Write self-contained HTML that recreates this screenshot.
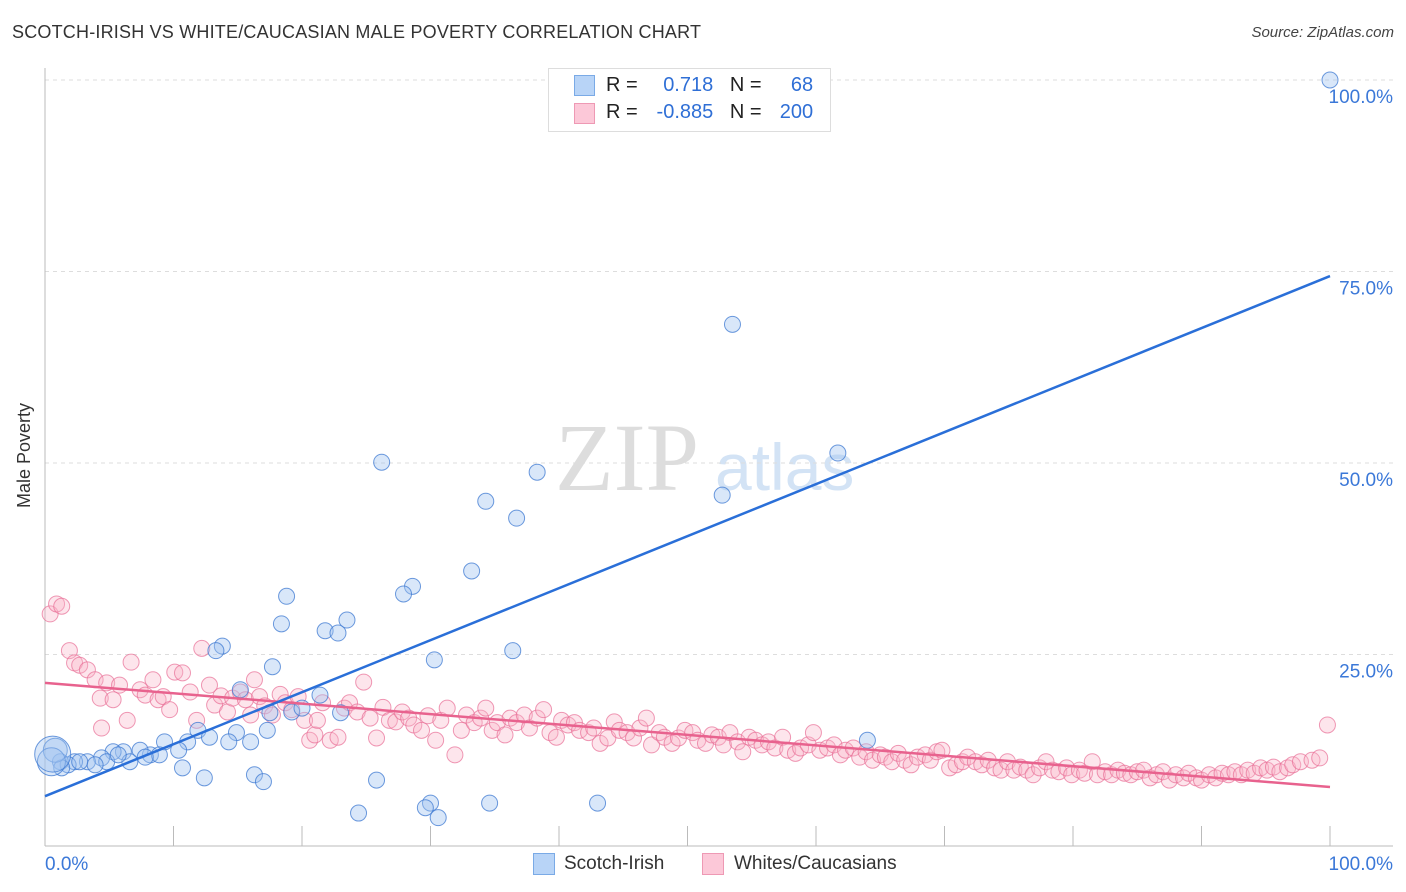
<!DOCTYPE html>
<html><head><meta charset="utf-8">
<style>
body{margin:0;background:#fff;font-family:"Liberation Sans",sans-serif;}
#wrap{position:relative;width:1406px;height:892px;overflow:hidden;}
.t{position:absolute;white-space:nowrap;}
</style></head>
<body>
<div id="wrap">
<div class="t" style="left:12px;top:22px;font-size:18px;color:#333;letter-spacing:0.2px">SCOTCH-IRISH VS WHITE/CAUCASIAN MALE POVERTY CORRELATION CHART</div>
<div class="t" style="right:12px;top:24px;font-size:15px;color:#444;font-style:italic">Source: ZipAtlas.com</div>
<div class="t" style="left:-28px;top:445px;font-size:18px;color:#333;transform:rotate(-90deg)">Male Poverty</div>
<svg id="svg" width="1406" height="892" style="position:absolute;left:0;top:0">
<text x="555" y="490" font-family="Liberation Serif,serif" font-size="96" fill="#ddd">ZIP</text>
<text x="715" y="490" font-family="Liberation Sans,sans-serif" font-size="66" fill="#d3e3f5">atlas</text>
</svg>
<div style="position:absolute;left:548px;top:68px;width:281px;height:62px;border:1px solid #ddd;background:#fff"></div>
<div style="position:absolute;left:574px;top:75px;width:19px;height:19px;background:#b8d4f7;border:1px solid #7aaae6"></div>
<div style="position:absolute;left:574px;top:103px;width:19px;height:19px;background:#fcc8d8;border:1px solid #ee99b4"></div>
<div class="t" style="left:606px;top:74px;font-size:20px;color:#222">R = <span style="color:#2f6fd6;display:inline-block;width:70px;text-align:right">0.718</span>&nbsp;&nbsp; N = <span style="color:#2f6fd6;display:inline-block;width:46px;text-align:right">68</span></div>
<div class="t" style="left:606px;top:101px;font-size:20px;color:#222">R = <span style="color:#2f6fd6;display:inline-block;width:70px;text-align:right">-0.885</span>&nbsp;&nbsp; N = <span style="color:#2f6fd6;display:inline-block;width:46px;text-align:right">200</span></div>
<div style="position:absolute;left:533px;top:853px;width:20px;height:20px;background:#b8d4f7;border:1px solid #7aaae6"></div>
<div class="t" style="left:564px;top:853px;font-size:19px;color:#333">Scotch-Irish</div>
<div style="position:absolute;left:702px;top:853px;width:20px;height:20px;background:#fcc8d8;border:1px solid #ee99b4"></div>
<div class="t" style="left:734px;top:853px;font-size:19px;color:#333">Whites/Caucasians</div>
</div>
<script>
const yTicks=[25,50,75,100];
const yTickLabels=["25.0%","50.0%","75.0%","100.0%"];
const xTicks=[10,20,30,40,50,60,70,80,90,100];
const blueX=[100,53.5,61.7,26.2,38.3,34.3,52.7,36.7,33.2,28.6,27.9,18.8,18.4,23.5,21.8,22.8,13.8,13.3,30.3,36.4,17.7,15.2,21.4,19.2,20.0,16.0,14.9,17.3,11.9,12.8,14.3,11.1,9.3,10.4,8.2,7.4,6.1,5.3,6.6,4.4,3.3,2.3,1.2,1.8,10.7,12.4,16.3,17.0,25.8,24.4,30.0,29.6,30.6,34.6,43.0,64.0,23.0,17.5,8.9,4.8,3.9,2.7,7.8,5.7,1.3,0.8,0.5,0.6];
const blueY=[100,68.1,51.3,50.1,48.8,45.0,45.8,42.8,35.9,33.9,32.9,32.6,29.0,29.5,28.1,27.8,26.1,25.5,24.3,25.5,23.4,20.4,19.7,17.5,18.0,13.6,14.8,15.1,15.1,14.2,13.6,13.6,13.6,12.5,11.9,12.5,12.3,12.3,11.0,11.5,11.0,11.0,11.0,10.6,10.2,8.9,9.3,8.4,8.6,4.3,5.6,5.0,3.7,5.6,5.6,13.8,17.4,17.4,11.9,11.0,10.6,11.0,11.6,11.9,10.2,12.5,11.0,12.0];
const blueR=[8,8,8,8,8,8,8,8,8,8,8,8,8,8,8,8,8,8,8,8,8,8,8,8,8,8,8,8,8,8,8,8,8,8,8,8,8,8,8,8,8,8,8,8,8,8,8,8,8,8,8,8,8,8,8,8,8,8,8,8,8,8,8,8,8,12,14,18];
const pinkX=[0.4,0.9,1.3,1.9,2.3,2.7,3.3,3.9,4.3,4.8,5.3,5.8,6.4,6.7,7.4,7.8,8.4,8.8,9.2,9.7,10.1,10.7,11.3,11.8,12.2,12.8,13.2,13.7,14.2,14.6,15.2,15.6,16.0,16.3,16.7,17.1,17.7,18.3,18.7,19.2,19.7,20.2,20.6,21.0,21.2,21.6,22.2,22.8,23.3,23.7,24.3,24.8,25.3,25.8,26.3,26.8,27.3,27.8,28.3,28.7,29.3,29.8,30.4,30.8,31.3,31.9,32.4,32.8,33.4,33.9,34.3,34.8,35.2,35.8,36.2,36.7,37.3,37.7,38.3,38.8,39.3,39.8,40.2,40.7,41.2,41.6,42.3,42.7,43.2,43.8,44.3,44.7,45.3,45.8,46.3,46.8,47.2,47.8,48.2,48.8,49.3,49.8,50.4,50.8,51.4,51.9,52.4,52.8,53.3,53.9,54.3,54.8,55.3,55.8,56.3,56.8,57.4,57.8,58.4,58.8,59.4,59.8,60.3,60.9,61.4,61.9,62.3,62.9,63.4,63.9,64.4,65.0,65.4,65.9,66.4,66.9,67.4,67.9,68.5,68.9,69.4,69.8,70.4,70.9,71.4,71.8,72.4,72.9,73.4,73.9,74.4,74.9,75.4,75.9,76.4,76.9,77.4,77.9,78.4,78.9,79.5,79.9,80.5,80.9,81.5,81.9,82.5,83.0,83.5,84.0,84.5,85.0,85.5,86.0,86.5,87.0,87.5,88.0,88.6,89.0,89.6,90.0,90.6,91.1,91.6,92.1,92.6,93.1,93.6,94.1,94.6,95.1,95.6,96.1,96.7,97.1,97.7,98.6,99.8,99.2,4.4];
const pinkY=[30.3,31.6,31.3,25.5,23.9,23.6,23.0,21.7,19.3,21.3,19.1,21.0,16.4,24.0,20.4,19.7,21.7,19.1,19.5,17.8,22.7,22.6,20.1,16.4,25.8,21.0,18.4,19.6,17.5,19.3,20.1,19.1,17.1,21.7,19.5,18.3,17.1,19.8,18.7,17.8,19.5,16.4,13.8,14.5,16.4,18.7,13.8,14.2,18.0,18.7,17.5,21.4,16.7,14.1,18.1,16.4,16.2,17.5,16.7,15.8,15.1,17.0,13.8,16.4,18.0,11.9,15.1,17.1,16.1,16.7,18.0,15.1,16.1,14.5,16.7,16.1,17.1,15.4,16.7,17.8,14.8,14.2,16.4,15.8,16.1,15.1,14.8,15.4,13.4,14.1,16.2,15.1,14.8,14.1,15.4,16.7,13.2,14.8,14.2,13.4,14.1,15.1,14.8,13.8,13.4,14.5,14.2,13.2,14.8,13.6,12.3,14.2,13.8,13.2,13.6,12.8,14.2,12.5,12.1,12.8,13.2,14.8,12.5,12.8,13.2,11.9,12.5,12.8,11.6,12.3,11.2,11.9,11.6,11.0,12.1,11.2,10.6,11.6,11.9,11.2,12.3,12.5,10.2,10.6,11.0,11.6,11.0,10.6,11.2,10.2,9.9,11.0,9.9,10.3,9.9,9.3,10.2,11.0,9.9,9.7,10.2,9.3,9.9,9.5,11.0,9.3,9.7,9.3,9.9,9.5,9.3,9.7,9.9,8.9,9.3,9.7,8.6,9.3,8.9,9.5,8.9,8.6,9.3,8.9,9.5,9.3,9.7,9.3,9.9,9.5,10.2,9.9,10.3,9.7,10.2,10.6,11.0,11.2,15.8,11.5,15.4];
const blueLine=[6.5,74.4];
const pinkLine=[21.3,7.7];

const X0=45,X1=1330,Y0=846,Y1=80;
const xs=v=>X0+(X1-X0)*v/100;
const ys=v=>Y0-(Y0-Y1)*v/100;
const svg=document.getElementById('svg');
const NS='http://www.w3.org/2000/svg';
function mk(tag,attrs){const e=document.createElementNS(NS,tag);for(const k in attrs)e.setAttribute(k,attrs[k]);svg.appendChild(e);return e;}
yTicks.forEach((t,i)=>{
  const g=mk('line',{x1:X0,x2:1393,y1:ys(t),y2:ys(t),stroke:'#ddd','stroke-dasharray':'4,4'});
  
  
  const tx=mk('text',{x:1393,y:ys(t)+23,'text-anchor':'end','font-size':19,fill:'#3b78d8','font-family':'Liberation Sans,sans-serif'});
  tx.textContent=yTickLabels[i];
  
  
});
const ax=mk('line',{x1:X0,x2:X0,y1:68,y2:Y0,stroke:'#bbb'});


const bx=mk('line',{x1:X0,x2:1393,y1:Y0,y2:Y0,stroke:'#bbb'});


xTicks.forEach(t=>{
  const l=mk('line',{x1:xs(t),x2:xs(t),y1:Y0-20,y2:Y0,stroke:'#bbb'});
  
  
});
[[0,'0.0%','start',X0],[100,'100.0%','end',1393]].forEach(a=>{
  const tx=mk('text',{x:a[3],y:870,'text-anchor':a[2],'font-size':19,fill:'#3b78d8','font-family':'Liberation Sans,sans-serif'});
  tx.textContent=a[1];
  
  
});
pinkX.forEach((x,i)=>{
  const c=mk('circle',{cx:xs(x),cy:ys(pinkY[i]),r:8,fill:'rgba(248,180,200,0.35)',stroke:'rgba(232,110,150,0.7)','stroke-width':1});
  
  
});
blueX.forEach((x,i)=>{
  const c=mk('circle',{cx:xs(x),cy:ys(blueY[i]),r:blueR[i],fill:'rgba(160,196,240,0.4)',stroke:'rgba(60,120,210,0.75)','stroke-width':1});
  
  
});
const pl=mk('line',{x1:xs(0),y1:ys(pinkLine[0]),x2:xs(100),y2:ys(pinkLine[1]),stroke:'#e8628e','stroke-width':2.5});


const bl=mk('line',{x1:xs(0),y1:ys(blueLine[0]),x2:xs(100),y2:ys(blueLine[1]),stroke:'#2a6fd8','stroke-width':2.5});


</script>
</body></html>
